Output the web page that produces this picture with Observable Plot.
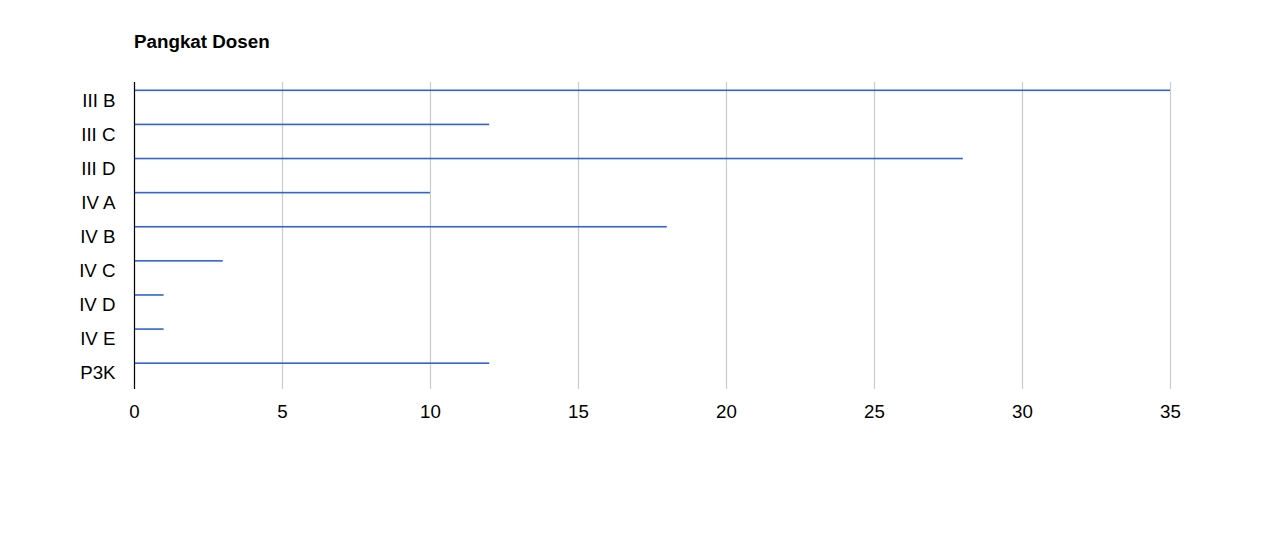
<!DOCTYPE html>
<html>
<head>
<meta charset="utf-8">
<script src="https://cdn.jsdelivr.net/npm/d3@7"></script>
<script src="https://cdn.jsdelivr.net/npm/@observablehq/plot@0.6"></script>
<style>
  html, body { margin: 0; padding: 0; background: #fff; }
  #title { height: 70px; box-sizing: border-box; padding-top: 31px; padding-left: 134px;
           font-family: Arial, "Liberation Sans", sans-serif; font-weight: bold; font-size: 18.8px; line-height: 22px; color: #000; }
  svg { display: block; }
</style>
</head>
<body>
<div id="title">Pangkat Dosen</div>
<div id="chart"></div>
<script>
const categories = ["III B", "III C", "III D", "IV A", "IV B", "IV C", "IV D", "IV E", "P3K"];
const values = [35, 12, 28, 10, 18, 3, 1, 1, 12];
const xTicks = [0, 5, 10, 15, 20, 25, 30, 35];

const data = categories.map((c, i) => ({category: c, value: values[i]}));

const chart = Plot.plot({
  width: 1266,
  height: 472,
  marginTop: 12,
  marginBottom: 153,
  marginLeft: 134,
  marginRight: 96,
  style: {fontFamily: "Arial, 'Liberation Sans', sans-serif", fontSize: "18.7px", color: "#000", background: "#fff"},
  x: {domain: [0, 35], ticks: xTicks, tickSize: 0, tickPadding: 15, label: null},
  y: {domain: categories, padding: 0, round: false, tickSize: 0, tickPadding: 19, label: null},
  marks: [
    Plot.gridX(xTicks, {stroke: "#cccccc", strokeOpacity: 1, strokeWidth: 1.2}),
    Plot.barX(data, {x: "value", y: "category", fill: "#3366cc", insetTop: 7.5, insetBottom: 25}),
    Plot.ruleX([0], {stroke: "#000", strokeWidth: 1.2}),
    Plot.axisX({ticks: xTicks, tickSize: 0, tickPadding: 15, label: null}),
    Plot.axisY({tickSize: 0, tickPadding: 19, dy: 1, label: null})
  ]
});
document.getElementById("chart").appendChild(chart);
</script>
</body>
</html>
